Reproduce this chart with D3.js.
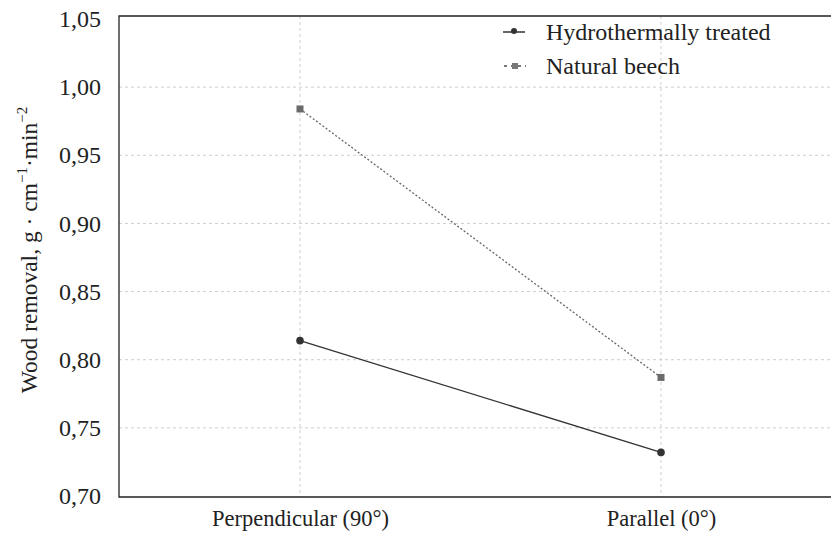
<!DOCTYPE html>
<html>
<head>
<meta charset="utf-8">
<script src="https://cdn.jsdelivr.net/npm/d3@7"></script>
<style>
  body { margin: 0; background: #fff; }
</style>
</head>
<body>
<div id="chart"></div>
<script>
// Data
const categories = ['Perpendicular (90°)', 'Parallel (0°)'];
const hydrothermal = [0.814, 0.732];
const naturalBeech = [0.984, 0.787];
const yTicks = [0.70, 0.75, 0.80, 0.85, 0.90, 0.95, 1.00, 1.05];
const seriesNames = ['Hydrothermally treated', 'Natural beech'];

const width = 831, height = 534;
const frame = { left: 119, top: 16, bottom: 497, right: 831 };
const FONT = 'Liberation Serif';

const svg = d3.select('#chart').append('svg')
    .attr('width', width)
    .attr('height', height)
    .attr('font-family', FONT);

const x = d3.scalePoint()
    .domain(categories)
    .range([300, 661]);

const y = d3.scaleLinear()
    .domain([0.70, 1.05])
    .range([496, 19]);

const fmt = d => d.toFixed(2).replace('.', ',');

// grid
const grid = svg.append('g');
grid.selectAll('line.h')
    .data(yTicks.filter(t => t > 0.71 && t < 1.04))
    .join('line')
    .attr('x1', frame.left).attr('x2', frame.right)
    .attr('y1', d => y(d)).attr('y2', d => y(d))
    .attr('stroke', '#cfcfcf').attr('stroke-width', 1)
    .attr('stroke-dasharray', '3,3');
grid.selectAll('line.v')
    .data(categories)
    .join('line')
    .attr('x1', d => x(d)).attr('x2', d => x(d))
    .attr('y1', frame.top).attr('y2', frame.bottom)
    .attr('stroke', '#cfcfcf').attr('stroke-width', 1)
    .attr('stroke-dasharray', '3,3');

// frame (open on the right)
svg.append('path')
    .attr('d', `M${frame.right},${frame.top}H${frame.left}V${frame.bottom}H${frame.right}`)
    .attr('fill', 'none')
    .attr('stroke', '#222')
    .attr('stroke-width', 1.3);

const styleText = size => g => g
    .attr('font-family', FONT)
    .attr('font-size', size)
    .selectAll('text')
    .attr('fill', '#222');

// y axis labels
const yAxis = d3.axisLeft(y).tickValues(yTicks).tickFormat(fmt).tickSize(0).tickPadding(0);
svg.append('g')
    .attr('transform', 'translate(101,0)')
    .call(yAxis)
    .call(g => g.select('.domain').remove())
    .call(styleText(24));

// x axis labels
const xAxis = d3.axisBottom(x).tickSize(0).tickPadding(0);
svg.append('g')
    .attr('transform', 'translate(0,510)')
    .call(xAxis)
    .call(g => g.select('.domain').remove())
    .call(styleText(22.5));

// y title
const title = svg.append('text')
    .attr('transform', 'translate(37,250) rotate(-90)')
    .attr('text-anchor', 'middle')
    .attr('fill', '#222')
    .attr('font-family', FONT)
    .attr('font-size', 23.5);
title.append('tspan').text('Wood removal, g · cm');
title.append('tspan').attr('dy', -10).attr('font-size', 15).text('−1');
title.append('tspan').attr('dy', 10).text('·min');
title.append('tspan').attr('dy', -10).attr('font-size', 15).text('−2');

// lines
const line = d3.line()
    .x((d, i) => x(categories[i]))
    .y(d => y(d));

svg.append('path')
    .datum(naturalBeech)
    .attr('d', line)
    .attr('fill', 'none')
    .attr('stroke', '#666')
    .attr('stroke-width', 1.3)
    .attr('stroke-dasharray', '2,2');

svg.append('path')
    .datum(hydrothermal)
    .attr('d', line)
    .attr('fill', 'none')
    .attr('stroke', '#333')
    .attr('stroke-width', 1.3);

svg.selectAll('rect.nb')
    .data(naturalBeech)
    .join('rect')
    .attr('x', (d, i) => x(categories[i]) - 3.5)
    .attr('y', d => y(d) - 3.5)
    .attr('width', 7).attr('height', 7)
    .attr('fill', '#6a6a6a');

svg.selectAll('circle.ht')
    .data(hydrothermal)
    .join('circle')
    .attr('cx', (d, i) => x(categories[i]))
    .attr('cy', d => y(d))
    .attr('r', 3.8)
    .attr('fill', '#333');

// legend
const legend = svg.append('g');
legend.append('line')
    .attr('x1', 503).attr('x2', 525).attr('y1', 32).attr('y2', 32)
    .attr('stroke', '#333').attr('stroke-width', 1.5);
legend.append('circle')
    .attr('cx', 514).attr('cy', 31).attr('r', 3)
    .attr('fill', '#333');
legend.append('line')
    .attr('x1', 504).attr('x2', 526).attr('y1', 66).attr('y2', 66)
    .attr('stroke', '#777').attr('stroke-width', 2)
    .attr('stroke-dasharray', '3,4');
legend.append('rect')
    .attr('x', 512).attr('y', 63).attr('width', 6).attr('height', 6)
    .attr('fill', '#777');
legend.selectAll('text')
    .data(seriesNames)
    .join('text')
    .attr('x', 546)
    .attr('y', (d, i) => 40 + i * 34)
    .attr('fill', '#222')
    .attr('font-family', FONT)
    .attr('font-size', 24)
    .text(d => d);
</script>
</body>
</html>
